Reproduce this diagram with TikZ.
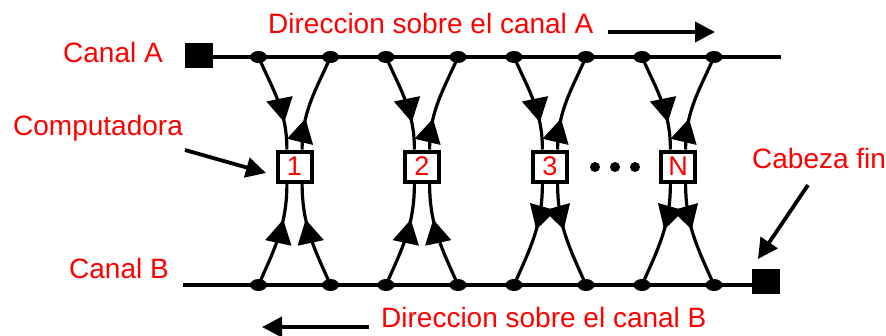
\documentclass[tikz,border=0pt]{standalone}
\usepackage{fontspec}
\setmainfont{Liberation Sans}
\usetikzlibrary{arrows.meta,shapes.geometric,decorations.markings,calc}
\begin{document}
\begin{tikzpicture}[x=1pt,y=-1pt,
  lbl/.style={text=red,font=\fontsize{28}{30}\selectfont,inner sep=0pt,anchor=base west},
  sq/.style={fill=black,draw=none,minimum width=28pt,minimum height=25pt,inner sep=0pt},
  chan/.style={line width=3.8pt},
  dotn/.style={ellipse,fill=black,draw=none,minimum width=17pt,minimum height=12pt,inner sep=0pt},
  pc/.style={draw=black,line width=4pt,fill=white,minimum width=34pt,minimum height=30pt,inner sep=0pt,text=red,font=\fontsize{27}{28}\selectfont},
  wire/.style={line width=3.2pt},
  fwd/.style={postaction={decorate},decoration={markings,mark=at position #1 with {\arrow{Triangle[width=26pt,length=24pt]}}}},
  bwd/.style={postaction={decorate},decoration={markings,mark=at position #1 with {\arrowreversed{Triangle[width=26pt,length=24pt]}}}},
  ptr/.style={line width=3.8pt,-{Triangle[width=20pt,length=20pt]}},
  edot/.style={circle,fill=black,draw=none,minimum size=10pt,inner sep=0pt}
]
\useasboundingbox (0,0) rectangle (886,335);

% labels
\node[lbl] (tA) at (63,62) {Canal A};
\node[lbl] (tB) at (69,278) {Canal B};
\node[lbl] (tC) at (13,135) {Computadora};
\node[lbl] (tF) at (752,168) {Cabeza fin};
\node[lbl] (dA) at (268,33) {Direccion sobre el canal A};
\node[lbl] (dB) at (381,327) {Direccion sobre el canal B};

% channels
\node[sq] (sqA) at (199,55.5) {};
\node[sq] (sqB) at (766,281.5) {};
\coordinate (endA) at (781,57);
\coordinate (startB) at (183,285);
\draw[chan] (sqA.east |- endA) -- (endA);
\draw[chan] (startB) -- (sqB.west |- startB);

% computers
\foreach \i/\cx/\t in {1/294.5/1,2/422/2,3/550/3,4/678/N}{
  \node[pc] (b\i) at (\cx,166.5) {\t};
  \node[dotn] (ta\i) at (\cx-36,57) {};
  \node[dotn] (tb\i) at (\cx+36,57) {};
  \node[dotn] (ba\i) at (\cx-36,285) {};
  \node[dotn] (bb\i) at (\cx+36,285) {};
  \coordinate (nl\i) at ($(b\i.north west)!0.3!(b\i.north east)$);
  \coordinate (nr\i) at ($(b\i.north west)!0.7!(b\i.north east)$);
  \coordinate (sl\i) at ($(b\i.south west)!0.3!(b\i.south east)$);
  \coordinate (sr\i) at ($(b\i.south west)!0.7!(b\i.south east)$);
  \draw[wire,fwd=0.72] (ta\i.center) to[out=-66,in=90] (nl\i);
  \draw[wire,bwd=0.68] (tb\i.center) to[out=-114,in=90] (nr\i);
}
\foreach \i in {1,2}{
  \draw[wire,bwd=0.34] (sl\i) to[out=-90,in=66] (ba\i.center);
  \draw[wire,bwd=0.34] (sr\i) to[out=-90,in=114] (bb\i.center);
}
\foreach \i in {3,4}{
  \draw[wire,fwd=0.44] (sl\i) to[out=-90,in=66] (ba\i.center);
  \draw[wire,fwd=0.44] (sr\i) to[out=-90,in=114] (bb\i.center);
}

% ellipsis
\node[edot] (e1) at (595,167) {};
\node[edot] (e2) at (615,167) {};
\node[edot] (e3) at (635,167) {};

% pointers
\coordinate (cS) at (185,150);
\coordinate (cE) at (266,173);
\draw[ptr] (cS) -- (cE);
\coordinate (fS) at (808,185);
\coordinate (fE) at (758,259);
\draw[ptr] (fS) -- (fE);
\coordinate (aS) at (608,32);
\coordinate (aE) at (715,32);
\draw[ptr] (aS) -- (aE);
\coordinate (bS) at (369,327);
\coordinate (bE) at (262,327);
\draw[ptr] (bS) -- (bE);
\end{tikzpicture}
\end{document}
